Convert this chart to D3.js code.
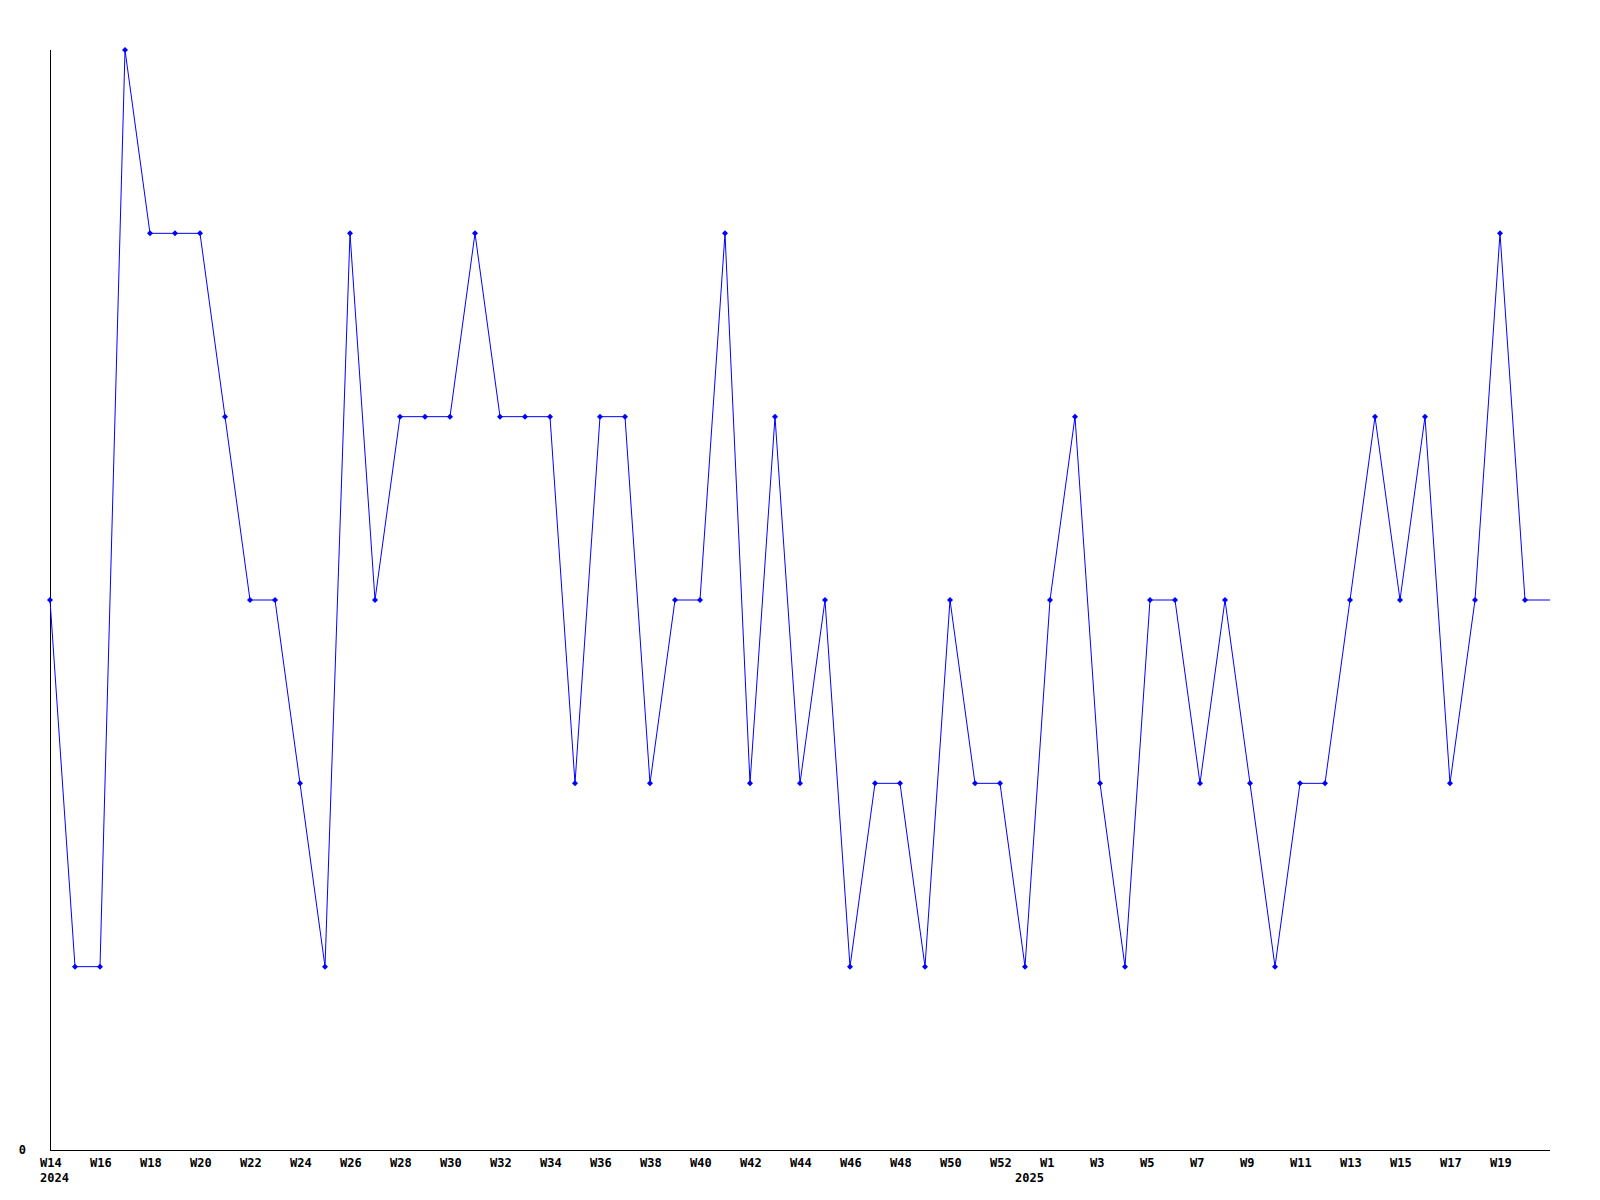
<!DOCTYPE html>
<html>
<head>
<meta charset="utf-8">
<script src="https://cdn.jsdelivr.net/npm/d3@7"></script>
<style>
  html, body { margin: 0; padding: 0; background: #fff; }
  svg { display: block; }
  text { font-family: "DejaVu Sans Mono", "Liberation Mono", monospace; font-weight: bold; font-size: 12px; fill: #000; }
</style>
</head>
<body>
<svg id="chart" width="1600" height="1200"></svg>
<script>
// Weekly series: first week starts Monday 2024-04-01 (W14), 60 weeks
const startWeek = "2024-04-01";
const domainEnd = "2025-05-26";
const values = [3, 1, 1, 6, 5, 5, 5, 4, 3, 3,
                2, 1, 5, 3, 4, 4, 4, 5, 4, 4,
                4, 2, 4, 4, 2, 3, 3, 5, 2, 4,
                2, 3, 1, 2, 2, 1, 3, 2, 2, 1,
                3, 4, 2, 1, 3, 3, 2, 3, 2, 1,
                2, 2, 3, 4, 3, 4, 2, 3, 5, 3];
const yearLabels = [
  { date: "2024-04-01", text: "2024" },
  { date: "2024-12-30", text: "2025" }
];
const yTickValues = [0];

const parse = d3.utcParse("%Y-%m-%d");
const start = parse(startWeek);
const dates = values.map((v, i) => d3.utcWeek.offset(start, i));
const data = values.map((v, i) => ({ date: dates[i], value: v }));

const margin = { left: 50, right: 50, top: 50, bottom: 50 };
const W = 1600, H = 1200;
const svg = d3.select("#chart");

const x = d3.scaleUtc()
  .domain([start, parse(domainEnd)])
  .range([margin.left, W - margin.right]);
const y = d3.scaleLinear()
  .domain([0, 6])
  .range([H - margin.bottom, margin.top]);

// axes lines
svg.append("line")
  .attr("x1", x.range()[0]).attr("x2", x.range()[0])
  .attr("y1", y.range()[0]).attr("y2", y.range()[1])
  .attr("stroke", "#000").attr("stroke-width", 1).attr("shape-rendering", "crispEdges");
svg.append("line")
  .attr("x1", x.range()[0]).attr("x2", x.range()[1])
  .attr("y1", y.range()[0]).attr("y2", y.range()[0])
  .attr("stroke", "#000").attr("stroke-width", 1).attr("shape-rendering", "crispEdges");

// y tick labels
svg.selectAll(".ylab").data(yTickValues).join("text")
  .attr("class", "ylab")
  .attr("x", x.range()[0] - 24)
  .attr("y", d => y(d) + 4)
  .attr("text-anchor", "end")
  .text(d => d);

// x tick labels (every 2 weeks)
const fmtW = d3.utcFormat("%W");
const tickDates = dates.filter((d, i) => i % 2 === 0);
svg.selectAll(".xlab").data(tickDates).join("text")
  .attr("class", "xlab")
  .attr("x", d => x(d) - 10)
  .attr("y", H - margin.bottom + 17)
  .attr("text-anchor", "start")
  .text(d => "W" + (+fmtW(d)));

svg.selectAll(".yearlab").data(yearLabels).join("text")
  .attr("class", "yearlab")
  .attr("x", d => x(parse(d.date)) - 10)
  .attr("y", H - margin.bottom + 32)
  .attr("text-anchor", "start")
  .text(d => d.text);

// line (extended horizontally to the domain end with the last value)
const lineData = data.concat([{ date: x.domain()[1], value: values[values.length - 1] }]);
const line = d3.line().x(d => x(d.date)).y(d => y(d.value));
svg.append("path")
  .datum(lineData)
  .attr("d", line)
  .attr("fill", "none")
  .attr("stroke", "#0000ff")
  .attr("stroke-width", 1);

// markers (small diamonds)
const marker = d3.symbol().type(d3.symbolSquare).size(18);
svg.selectAll(".pt").data(data).join("path")
  .attr("class", "pt")
  .attr("transform", d => `translate(${x(d.date)},${y(d.value)}) rotate(45)`)
  .attr("d", marker)
  .attr("fill", "#0000ff");
</script>
</body>
</html>
